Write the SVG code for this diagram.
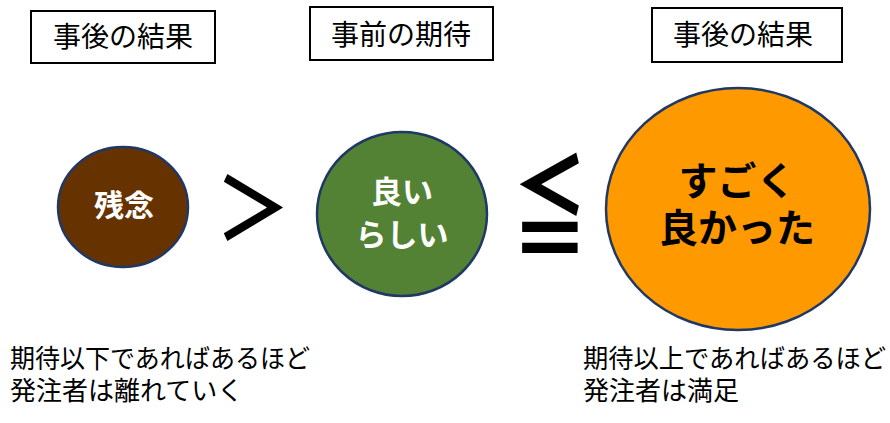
<svg xmlns="http://www.w3.org/2000/svg" width="890" height="423" viewBox="0 0 890 423">
<style>
.box{fill:#fff;stroke:#000;stroke-width:2}
.lbl{font-family:"Noto Sans CJK JP","Noto Sans",sans-serif;font-size:28px;fill:#000;text-anchor:middle}
.circ{stroke:#203864;stroke-width:2.5}
.ct{font-family:"Noto Sans CJK JP","Noto Sans",sans-serif;font-weight:bold;text-anchor:middle}
.note{font-family:"Noto Sans CJK JP","Noto Sans",sans-serif;font-size:26px;fill:#000}
.sym{font-family:"Noto Sans CJK JP","DejaVu Sans",sans-serif;font-weight:bold;fill:#000;text-anchor:middle}
</style>
<rect width="890" height="423" fill="#fff"/>
<g id="label-after-1">
<rect class="box" x="31" y="11" width="184" height="52"/>
<text class="lbl" x="123" y="47">事後の結果</text>
</g>
<g id="label-before">
<rect class="box" x="310" y="7" width="183" height="53"/>
<text class="lbl" x="401" y="45">事前の期待</text>
</g>
<g id="label-after-2">
<rect class="box" x="652" y="8" width="190" height="54"/>
<text class="lbl" x="743" y="45">事後の結果</text>
</g>
<g id="node-zannen">
<ellipse class="circ" cx="123" cy="207" rx="65" ry="60" fill="#663300"/>
<text class="ct" x="124" y="216" font-size="30" fill="#fff">残念</text>
</g>
<g id="node-yoirashii">
<ellipse class="circ" cx="402" cy="214" rx="85" ry="82" fill="#548235"/>
<text class="ct" x="402" y="203" font-size="31" fill="#fff">良い</text>
<text class="ct" x="402" y="246" font-size="31" fill="#fff">らしい</text>
</g>
<g id="node-sugoku">
<ellipse class="circ" cx="738" cy="209" rx="132" ry="121" fill="#FF9900"/>
<text class="ct" x="737" y="195" font-size="39" fill="#000">すごく</text>
<text class="ct" x="737" y="242" font-size="39" fill="#000">良かった</text>
</g>
<g id="connectors">
<text class="sym" transform="translate(253,240) scale(0.87,1)" x="0" y="0" font-size="86">＞</text>
<text class="sym" transform="translate(550,247) scale(0.68,1)" x="0" y="0" font-size="110">≦</text>
</g>
<g id="note-left">
<text class="note" x="10" y="368" textLength="300" lengthAdjust="spacingAndGlyphs">期待以下であればあるほど</text>
<text class="note" x="10" y="400">発注者は離れていく</text>
</g>
<g id="note-right">
<text class="note" x="583" y="368" textLength="303" lengthAdjust="spacingAndGlyphs">期待以上であればあるほど</text>
<text class="note" x="583" y="400">発注者は満足</text>
</g>
</svg>
